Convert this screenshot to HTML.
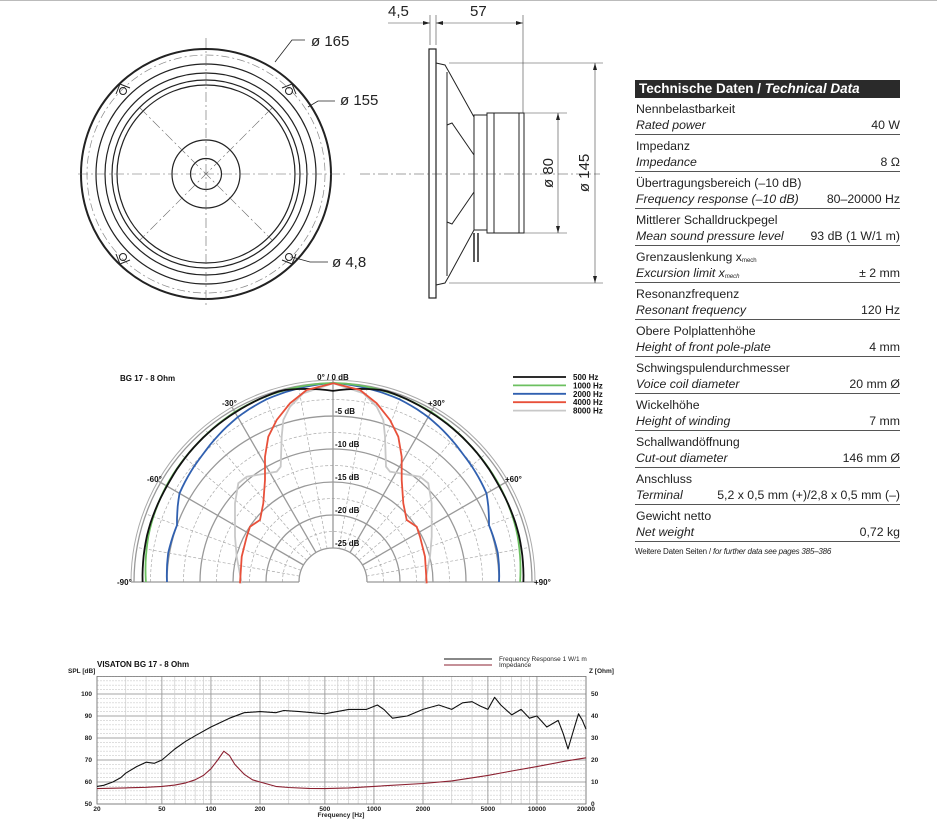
<!DOCTYPE html>
<html><head><meta charset="utf-8">
<style>
body{margin:0;background:#fff;width:937px;height:833px;overflow:hidden;font-family:"Liberation Sans",sans-serif;}
#tbl{position:absolute;left:635px;top:80px;width:265px;font-size:12.3px;color:#222;}
#tbl .h{background:#2a2a2a;color:#fff;font-weight:bold;font-size:13.5px;height:18px;line-height:18px;padding-left:4px;}
#tbl .r{border-bottom:1px solid #555;height:36px;position:relative;}
#tbl .a{position:absolute;left:1px;top:4px;}
#tbl .b{position:absolute;left:1px;top:20px;font-style:italic;}
#tbl .v{position:absolute;right:0;top:20px;}
sub{font-size:6px;vertical-align:-1px;}
</style></head><body>
<svg id="s" width="937" height="833" style="position:absolute;left:0;top:0" font-family="Liberation Sans, sans-serif">
<line x1="0" y1="0.5" x2="937" y2="0.5" stroke="#bbb"/>
<g fill="none" stroke="#222">
<circle cx="206" cy="174" r="125" stroke-width="2"/>
<circle cx="206" cy="174" r="119" stroke="#888" stroke-dasharray="8,3,2,3" stroke-width="0.7"/>
<circle cx="206" cy="174" r="110" stroke-width="1.2"/>
<circle cx="206" cy="174" r="101" stroke-width="1.2"/>
<circle cx="206" cy="174" r="94" stroke-width="1.2"/>
<circle cx="206" cy="174" r="89" stroke-width="1.2"/>
<circle cx="206" cy="174" r="34" stroke-width="1.2"/>
<circle cx="206" cy="174" r="15.5" stroke-width="1.2"/>
<g stroke="#666" stroke-width="0.6" stroke-dasharray="10,3,2,3">
<line x1="78" y1="174" x2="345" y2="174"/><line x1="206" y1="38" x2="206" y2="308"/>
<line x1="140" y1="108" x2="272" y2="240"/><line x1="272" y1="108" x2="140" y2="240"/>
</g>
<g stroke-width="1"><circle cx="123" cy="91" r="3.5"/><circle cx="289" cy="91" r="3.5"/><circle cx="123" cy="257" r="3.5"/><circle cx="289" cy="257" r="3.5"/>
<path d="M116 94 L120 84 L130 88"/><path d="M296 94 L292 84 L282 88"/><path d="M116 254 L120 264 L130 260"/><path d="M296 254 L292 264 L282 260"/></g>
<path d="M275 62 L292 40 L305 40" stroke-width="0.8"/>
<path d="M308 107 L318 101 L335 101" stroke-width="0.8"/>
<path d="M292 257 L310 262 L328 262" stroke-width="0.8"/>
</g>
<g font-size="15" fill="#222"><text x="311" y="46">ø 165</text><text x="340" y="105">ø 155</text><text x="332" y="267">ø 4,8</text>
<text x="388" y="16">4,5</text><text x="470" y="16">57</text></g>
<g fill="none" stroke="#222" stroke-width="1">
<rect x="429" y="49" width="7" height="249" stroke-width="1.2"/>
<path d="M436 63 L445 65 L449 72 L474 117 L474 230 L449 276 L445 283 L436 285"/>
<path d="M447 72 L447 276"/>
<path d="M447 125 L452 123 L474 155 M447 222 L452 224 L474 192"/>
<rect x="474" y="115" width="13" height="115"/>
<rect x="487" y="113" width="37" height="120"/>
<rect x="494" y="113" width="25" height="120"/>
<path d="M474 233 L474 262 M478 233 L478 262" stroke-width="1.5"/>
<g stroke-width="0.6" stroke="#444">
<line x1="449" y1="63" x2="603" y2="63"/><line x1="449" y1="283" x2="603" y2="283"/>
<line x1="524" y1="113" x2="567" y2="113"/><line x1="524" y1="233" x2="567" y2="233"/>
<line x1="558" y1="113" x2="558" y2="233"/><line x1="595" y1="63" x2="595" y2="283"/>
<line x1="430" y1="15" x2="430" y2="45"/><line x1="436" y1="15" x2="436" y2="45"/><line x1="523" y1="15" x2="523" y2="113"/>
<line x1="388" y1="23" x2="430" y2="23"/><line x1="436" y1="23" x2="523" y2="23"/>
<line x1="360" y1="174" x2="600" y2="174" stroke-dasharray="10,3,2,3"/>
</g></g>
<g fill="#222"><path d="M430 23 l-7 -2 v4z"/><path d="M436 23 l7 -2 v4z"/><path d="M523 23 l-7 -2 v4z"/>
<path d="M558 113 l-2 7 h4z"/><path d="M558 233 l-2 -7 h4z"/><path d="M595 63 l-2 7 h4z"/><path d="M595 283 l-2 -7 h4z"/></g>
<text transform="translate(553,173) rotate(-90)" font-size="15" text-anchor="middle" fill="#222">ø 80</text>
<text transform="translate(589,173) rotate(-90)" font-size="15" text-anchor="middle" fill="#222">ø 145</text>
<g id="polar"></g>
<g id="freq"></g>
</svg>
<div id="tbl">
<div class="h">Technische Daten / <i>Technical Data</i></div>
<div class="r"><span class="a">Nennbelastbarkeit</span><span class="b">Rated power</span><span class="v">40 W</span></div>
<div class="r"><span class="a">Impedanz</span><span class="b">Impedance</span><span class="v">8 Ω</span></div>
<div class="r"><span class="a">Übertragungsbereich (–10 dB)</span><span class="b">Frequency response (–10 dB)</span><span class="v">80–20000 Hz</span></div>
<div class="r"><span class="a">Mittlerer Schalldruckpegel</span><span class="b">Mean sound pressure level</span><span class="v">93 dB (1 W/1 m)</span></div>
<div class="r"><span class="a">Grenzauslenkung x<sub>mech</sub></span><span class="b">Excursion limit x<sub>mech</sub></span><span class="v">± 2 mm</span></div>
<div class="r"><span class="a">Resonanzfrequenz</span><span class="b">Resonant frequency</span><span class="v">120 Hz</span></div>
<div class="r"><span class="a">Obere Polplattenhöhe</span><span class="b">Height of front pole-plate</span><span class="v">4 mm</span></div>
<div class="r"><span class="a">Schwingspulendurchmesser</span><span class="b">Voice coil diameter</span><span class="v">20 mm Ø</span></div>
<div class="r"><span class="a">Wickelhöhe</span><span class="b">Height of winding</span><span class="v">7 mm</span></div>
<div class="r"><span class="a">Schallwandöffnung</span><span class="b">Cut-out diameter</span><span class="v">146 mm Ø</span></div>
<div class="r"><span class="a">Anschluss</span><span class="b">Terminal</span><span class="v">5,2 x 0,5 mm (+)/2,8 x 0,5 mm (–)</span></div>
<div class="r"><span class="a">Gewicht netto</span><span class="b">Net weight</span><span class="v">0,72 kg</span></div>
<div style="font-size:8px;margin-top:5px;letter-spacing:-0.2px">Weitere Daten Seiten / <i>for further data see pages 385–386</i></div>
</div>
<script>
(function(){
var NS="http://www.w3.org/2000/svg";
function add(g,tag,at,txt){var e=document.createElementNS(NS,tag);for(var k in at)e.setAttribute(k,at[k]);if(txt!=null)e.textContent=txt;g.appendChild(e);return e;}
var P=document.getElementById("polar"),cx=333,cy=582;
function R(db){return Math.max(34,199+db*6.6);}
function pt(a,r){var t=a*Math.PI/180;return [cx+r*Math.sin(t),cy-r*Math.cos(t)];}
function arc(r){var a=pt(-90,r),b=pt(90,r);return "M"+a[0]+" "+a[1]+" A"+r+" "+r+" 0 0 1 "+b[0]+" "+b[1];}
for(var d=-22.5;d<0;d+=5)add(P,"path",{d:arc(R(d)),fill:"none",stroke:"#aaa","stroke-width":0.7,"stroke-dasharray":"3,2"});
for(var d=-20;d<=0;d+=5)add(P,"path",{d:arc(R(d)),fill:"none",stroke:"#999","stroke-width":1.3});
add(P,"path",{d:arc(R(0)+3),fill:"none",stroke:"#aaa","stroke-width":1});
add(P,"path",{d:arc(34),fill:"none",stroke:"#999","stroke-width":1.3});
for(var a=-80;a<=80;a+=10){if(a%30==0)continue;var p=pt(a,34),q=pt(a,199);add(P,"line",{x1:p[0],y1:p[1],x2:q[0],y2:q[1],stroke:"#aaa","stroke-width":0.7,"stroke-dasharray":"3,2"});}
[-90,-60,-30,0,30,60,90].forEach(function(a){var p=pt(a,34),q=pt(a,202);add(P,"line",{x1:p[0],y1:p[1],x2:q[0],y2:q[1],stroke:"#999","stroke-width":1.3});});
function polar(tab,col,w){var s=[];for(var a=-90;a<=90;a+=2){var b=Math.abs(a),i=0;while(i<tab.length-2&&tab[i+1][0]<b)i++;var f=(b-tab[i][0])/(tab[i+1][0]-tab[i][0]);var db=tab[i][1]+f*(tab[i+1][1]-tab[i][1]);var p=pt(a,R(db));s.push(p[0].toFixed(1)+" "+p[1].toFixed(1));}
add(P,"path",{d:"M"+s.join(" L"),fill:"none",stroke:col,"stroke-width":w});}
function cart(pts,col){var l=pts.map(function(p){return [100+(1400-p[0])/3,370+p[1]/3];}).reverse();var r=pts.map(function(p){return [100+p[0]/3,370+p[1]/3];});var all=l.concat(r.slice(1));
add(P,"path",{d:"M"+all.map(function(p){return p[0].toFixed(1)+" "+p[1].toFixed(1)}).join(" L"),fill:"none",stroke:col,"stroke-width":1.8});}
cart([[700,40],[790,70],[830,110],[850,150],[855,200],[858,290],[870,305],[960,320],[985,340],[995,400],[995,500],[990,560],[975,640]],"#c8c8c8");
polar([[0,0],[20,-0.7],[30,-1.3],[45,-2.5],[60,-3.3],[70,-5],[80,-4.8],[90,-5]],"#3060b0",1.8);
polar([[0,0],[30,-0.4],[45,-0.8],[60,-1],[75,-1.3],[90,-1.8]],"#6cc060",1.8);
polar([[0,-1.2],[8,-0.6],[15,-0.1],[30,-0.5],[60,-1.1],[75,-1.1],[90,-1.3]],"#111",1.8);
cart([[700,40],[780,60],[830,100],[870,150],[895,200],[905,260],[905,330],[910,400],[920,450],[950,470],[960,500],[975,560],[980,640]],"#e8503a");
var ft={"font-size":8,"font-weight":"bold",fill:"#111"};
function T(x,y,t,ex){var o={x:x,y:y};for(var k in ft)o[k]=ft[k];if(ex)for(var k in ex)o[k]=ex[k];add(P,"text",o,t);}
T(120,381,"BG 17 - 8 Ohm");T(333,380,"0° / 0 dB",{"text-anchor":"middle"});
["-5 dB","-10 dB","-15 dB","-20 dB","-25 dB"].forEach(function(t,i){T(335,414+i*33,t);});
T(222,406,"-30°");T(428,406,"+30°");T(147,482,"-60°");T(505,482,"+60°");T(117,585,"-90°");T(534,585,"+90°");
[["500 Hz","#111"],["1000 Hz","#6cc060"],["2000 Hz","#3060b0"],["4000 Hz","#e8503a"],["8000 Hz","#c8c8c8"]].forEach(function(l,i){var y=377+i*8.4;add(P,"line",{x1:513,y1:y,x2:566,y2:y,stroke:l[1],"stroke-width":1.8});T(573,y+3,l[0]);});
var F=document.getElementById("freq"),x0=97,x1=586,yb=804;
function X(f){return x0+(Math.log10(f)-Math.log10(20))/3*(x1-x0);}
function Y(db){return yb-(db-50)*2.2;}
var ytop=Y(108);
for(var v=50;v<=108;v+=2){add(F,"line",{x1:x0,y1:Y(v),x2:x1,y2:Y(v),stroke:(v%10==0)?"#888":"#ccc","stroke-width":(v%10==0)?0.8:0.6,"stroke-dasharray":(v%10==0)?"none":"2,1"});}
[20,30,40,50,60,70,80,90,100,200,300,400,500,600,700,800,900,1000,2000,3000,4000,5000,6000,7000,8000,9000,10000,20000].forEach(function(f){var m=[20,50,100,200,500,1000,2000,5000,10000,20000].indexOf(f)>=0;add(F,"line",{x1:X(f),y1:ytop,x2:X(f),y2:yb,stroke:m?"#999":"#ccc","stroke-width":m?0.9:0.7});});
add(F,"rect",{x:x0,y:ytop,width:x1-x0,height:yb-ytop,fill:"none",stroke:"#777","stroke-width":0.8});
function S(x,y,t,ex){var o={x:x,y:y,"font-size":6.5,"font-weight":"bold",fill:"#222"};if(ex)for(var k in ex)o[k]=ex[k];add(F,"text",o,t);}
[[50,0],[60,10],[70,20],[80,30],[90,40],[100,50]].forEach(function(a){S(92,Y(a[0])+2,a[0],{"text-anchor":"end"});S(591,Y(a[0])+2,a[1]);});
[20,50,100,200,500,1000,2000,5000,10000,20000].forEach(function(f){S(X(f),811,f,{"text-anchor":"middle"});});
S(341,817,"Frequency [Hz]",{"text-anchor":"middle"});S(68,673,"SPL [dB]");S(589,673,"Z [Ohm]");
add(F,"text",{x:97,y:667,"font-size":8,"font-weight":"bold",fill:"#111"},"VISATON BG 17 - 8 Ohm");
add(F,"line",{x1:444,y1:659,x2:492,y2:659,stroke:"#111","stroke-width":1});S(499,661,"Frequency Response 1 W/1 m",{"font-weight":"normal"});
add(F,"line",{x1:444,y1:665,x2:492,y2:665,stroke:"#8b2030","stroke-width":1});S(499,667,"Impedance",{"font-weight":"normal"});
function curve(pts,col,sc){var d=pts.map(function(p){return X(p[0]).toFixed(1)+" "+sc(p[1]).toFixed(1);});add(F,"path",{d:"M"+d.join(" L"),fill:"none",stroke:col,"stroke-width":1.1,"stroke-linejoin":"round"});}
curve([[20,58],[22,58.5],[25,60],[28,62],[30,64],[35,67],[40,69],[45,68.5],[50,70],[60,75],[70,78.5],[80,81],[100,85],[130,89],[160,91.5],[200,92],[250,91.5],[280,92.5],[350,92],[500,91],[700,93],[900,93],[1050,95],[1150,93],[1300,89],[1600,90],[2000,93],[2500,95],[3000,93],[3500,96],[4000,96.5],[4500,94.5],[5000,93],[5500,98.5],[6000,95],[7000,90.5],[8000,93],[9000,89],[10000,90],[11500,85],[13500,88],[14500,82],[15500,75],[17000,85],[18000,91],[19000,88],[20000,84]],"#111",Y);
function Z(o){return yb-o*2.2;}
curve([[20,7],[30,7.3],[40,7.6],[50,8],[60,8.6],[70,9.6],[80,11],[90,13],[100,16],[110,20],[120,24],[130,22],[140,18],[160,13.5],[180,11],[200,10],[250,8],[300,7.5],[400,7.1],[500,7],[700,7.3],[1000,8],[2000,9.3],[3000,10.5],[5000,13],[7000,15],[10000,17],[15000,19.5],[20000,21]],"#8b2030",Z);
})();
</script>
</body></html>
